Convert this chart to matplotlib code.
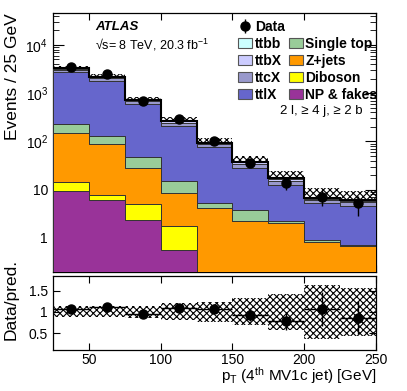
import numpy as np
import matplotlib.pyplot as plt
from matplotlib.patches import Patch
from matplotlib.ticker import FixedLocator, FixedFormatter, LogLocator, NullFormatter, MultipleLocator

plt.rcParams['font.family'] = ['Liberation Sans', 'DejaVu Sans']
plt.rcParams['mathtext.default'] = 'regular'
plt.rcParams['hatch.linewidth'] = 0.8

# binning (pT of 4th MV1c jet, GeV)
bin_edges = [25, 50, 75, 100, 125, 150, 175, 200, 225, 250]

# stacked predictions, bottom to top
np_fakes   = [9.2, 6.0, 2.4, 0.57, 0, 0, 0, 0, 0]
diboson    = [5.2, 1.9, 2.7, 1.17, 0, 0, 0, 0, 0]
zjets      = [133.6, 80.1, 22.9, 6.76, 4.2, 2.2, 2.0, 0.81, 0.69]
single_top = [81, 44, 19, 6.3, 1.1, 1.6, 0.2, 0.12, 0.03]
ttlx       = [2451, 1668, 543, 195, 72.7, 24.2, 10.5, 4.27, 3.98]
ttcx       = [360, 235, 88, 35, 9, 5.8, 2.8, 0.9, 0.8]
ttbx       = [185, 120, 45, 18, 4.6, 2.9, 1.4, 0.45, 0.4]
ttbb       = [55, 35, 14, 5, 1.4, 0.9, 0.4, 0.15, 0.1]

data     = [3540, 2450, 700, 295, 100, 35, 13.5, 7.2, 5.2]
data_err = [60, 50, 26, 17, 10, 5.9, 3.7, 2.7, 2.3]
syst_rel = [0.13, 0.13, 0.14, 0.20, 0.24, 0.32, 0.42, 0.64, 0.56]

components = [
    ('NP & fakes', np_fakes, '#993399'),
    ('Diboson', diboson, '#ffff00'),
    ('Z+jets', zjets, '#ff9900'),
    ('Single top', single_top, '#99cc99'),
    ('ttlX', ttlx, '#6666cc'),
    ('ttcX', ttcx, '#9999cc'),
    ('ttbX', ttbx, '#ccccff'),
    ('ttbb', ttbb, '#ccffff'),
]

edges = np.array(bin_edges, dtype=float)
centers = 0.5 * (edges[1:] + edges[:-1])
half_w = 0.5 * np.diff(edges)

fig = plt.figure(figsize=(4.07, 3.91), dpi=100)
ax = fig.add_axes([0.130, 0.305, 0.794, 0.661])
rax = fig.add_axes([0.130, 0.105, 0.794, 0.189], sharex=ax)

ax.set_yscale('log')

total = np.zeros(len(centers))
for name, vals, col in components:
    vals = np.array(vals, dtype=float)
    base = np.where(total > 0, total, 1e-3)
    ax.stairs(total + vals, edges, baseline=base, fill=True, facecolor=col,
              edgecolor='#333333', linewidth=0.7, zorder=3)
    total = total + vals

syst = np.array(syst_rel)
ax.stairs(total * (1 + syst), edges, baseline=total * (1 - syst), fill=True,
          facecolor='none', edgecolor='black', linewidth=0, hatch='xxxxx', zorder=2)
ax.stairs(total, edges, baseline=None, color='black', linewidth=1.5, zorder=4)

data_h = ax.errorbar(centers, data, yerr=data_err, fmt='o', color='black',
                     markersize=6.5, elinewidth=1, capsize=0, zorder=5)

ax.set_xlim(25, 250)
ax.set_ylim(0.2, 4.5e4)
ax.set_ylabel('Events / 25 GeV', fontsize=12.5, loc='top')
ax.yaxis.set_major_locator(FixedLocator([1, 10, 100, 1000, 10000]))
ax.yaxis.set_major_formatter(FixedFormatter(['1', '10', '$10^{2}$', '$10^{3}$', '$10^{4}$']))
ax.yaxis.set_minor_locator(LogLocator(subs=np.arange(2, 10), numticks=20))
ax.yaxis.set_minor_formatter(NullFormatter())
ax.tick_params(labelbottom=False)

# ratio panel
ratio = np.array(data) / total
ratio_err = np.array(data_err) / total
rax.stairs(1 + syst, edges, baseline=1 - syst, fill=True, facecolor='none',
           edgecolor='black', linewidth=0, hatch='xxxxx', zorder=2)
rax.errorbar(centers, ratio, xerr=half_w, yerr=ratio_err, fmt='o', color='black',
             markersize=6.5, elinewidth=1, capsize=0, zorder=5)
rax.set_ylim(0.1, 1.85)
rax.yaxis.set_major_locator(FixedLocator([0.5, 1, 1.5]))
rax.yaxis.set_major_formatter(FixedFormatter(['0.5', '1', '1.5']))
rax.xaxis.set_major_locator(MultipleLocator(50))
rax.set_ylabel('Data/pred.', fontsize=12.5)
rax.yaxis.set_label_coords(-0.105, 0.68)
rax.set_xlabel(r'p$_{T}$ (4$^{th}$ MV1c jet) [GeV]', fontsize=11, loc='right', labelpad=-1)

for a in (ax, rax):
    a.tick_params(which='both', direction='in', top=True, right=True, labelsize=10)
    for s in a.spines.values():
        s.set_linewidth(0.9)
ax.tick_params(axis='y', which='major', length=8)
ax.tick_params(axis='y', which='minor', length=4)
ax.tick_params(axis='x', which='major', length=5)
rax.tick_params(which='major', length=5)
rax.tick_params(axis='x', pad=2)

# legend
def box(c):
    return Patch(facecolor=c, edgecolor='#555555', linewidth=0.8)

blank = Patch(visible=False)
cols = {n: c for n, v, c in components}
handles = [data_h, box(cols['ttbb']), box(cols['ttbX']), box(cols['ttcX']), box(cols['ttlX']),
           blank, box(cols['Single top']), box(cols['Z+jets']), box(cols['Diboson']), box(cols['NP & fakes'])]
labels = ['Data', 'ttbb', 'ttbX', 'ttcX', 'ttlX', '', 'Single top', 'Z+jets', 'Diboson', 'NP & fakes']
ax.legend(handles, labels, ncol=2, loc='upper left', bbox_to_anchor=(0.573, 0.975),
          frameon=False, prop={'weight': 'bold', 'size': 10}, handlelength=1.0,
          handleheight=0.75, handletextpad=0.2, columnspacing=0.3, labelspacing=0.22,
          borderpad=0, borderaxespad=0)

ax.text(0.130, 0.947, 'ATLAS', transform=ax.transAxes, fontsize=9.5,
        fontweight='bold', fontstyle='italic', va='center')
ax.text(0.130, 0.877, '√s= 8 TeV, 20.3 fb$^{-1}$', transform=ax.transAxes,
        fontsize=9, va='center')
ax.text(0.703, 0.6235, '2 l, ≥ 4 j, ≥ 2 b', transform=ax.transAxes,
        fontsize=9.5, va='center')

fig.savefig('out.png', dpi=100)
